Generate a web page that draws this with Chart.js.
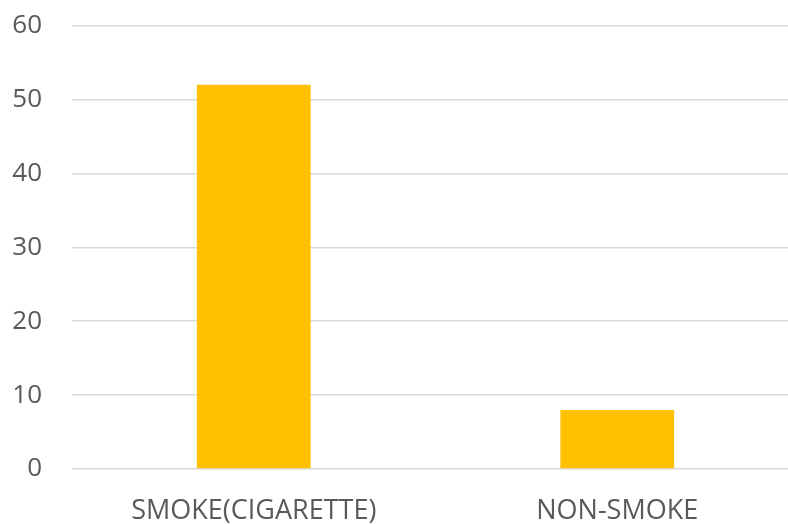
<!DOCTYPE html>
<html>
<head>
<meta charset="utf-8">
<script src="https://cdn.jsdelivr.net/npm/chart.js@4"></script>
<style>
  html, body { margin: 0; padding: 0; background: #fff; overflow: hidden; }
  #wrap { position: absolute; left: 0; top: -20px; width: 800px; height: 544px; }
</style>
</head>
<body>
<div id="wrap"><canvas id="smoking"></canvas></div>
<script>
const categories = ['SMOKE(CIGARETTE)', 'NON-SMOKE'];
const counts = [52, 8];
const yTicks = [0, 10, 20, 30, 40, 50, 60];

const ctxSmoking = document.getElementById('smoking').getContext('2d');
const smokingChart = new Chart(ctxSmoking, {
    type: 'bar',
    data: {
        labels: categories,
        datasets: [{
            label: 'Count',
            data: counts,
            backgroundColor: '#FFC000',
            borderWidth: 0,
            categoryPercentage: 1,
            barPercentage: 0.313
        }]
    },
    options: {
        responsive: true,
        maintainAspectRatio: false,
        animation: false,
        layout: {
            padding: { top: 0, left: 0, right: 1, bottom: 0 }
        },
        plugins: {
            legend: { display: false },
            tooltip: { enabled: false }
        },
        scales: {
            y: {
                min: yTicks[0],
                max: yTicks[yTicks.length - 1],
                afterFit: (scale) => { scale.width = 72; },
                afterBuildTicks: (scale) => {
                    scale.ticks = yTicks.map(v => ({ value: v }));
                },
                border: { display: false },
                grid: {
                    color: '#d9d9d9',
                    lineWidth: 1.5,
                    drawTicks: false
                },
                ticks: {
                    color: '#595959',
                    padding: 30,
                    font: { family: 'Open Sans', size: 26 }
                }
            },
            x: {
                afterFit: (scale) => { scale.height = 55; },
                border: { display: false },
                grid: { display: false },
                ticks: {
                    color: '#595959',
                    padding: 18,
                    maxRotation: 0,
                    font: { family: 'Open Sans', size: 27 }
                }
            }
        }
    }
});
</script>
</body>
</html>
